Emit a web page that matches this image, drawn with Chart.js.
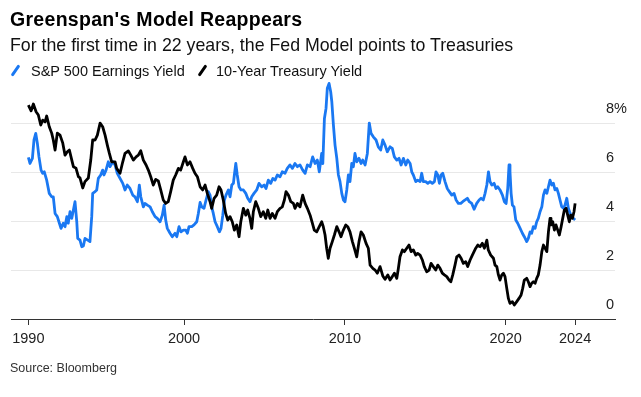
<!DOCTYPE html>
<html lang="en">
<head>
<meta charset="UTF-8">
<title>Greenspan's Model Reappears</title>
<script src="https://cdn.jsdelivr.net/npm/chart.js"></script>
<style>
  body { margin: 0; background: #fff; font-family: "Liberation Sans", Arial, sans-serif; color: #000; }
  .wrap { position: relative; width: 641px; height: 397px; overflow: hidden; }
  canvas { position: absolute; left: 0; top: 0; }
  .title { position: absolute; left: 10px; top: 10px; font-size: 19.5px; line-height: 19.5px; font-weight: bold; letter-spacing: 0.3px; }
  .subtitle { position: absolute; left: 10px; top: 37px; font-size: 17.75px; line-height: 17.75px; color: #111; }
  .legend-text { position: absolute; top: 64px; font-size: 14.5px; line-height: 14.5px; color: #111; white-space: nowrap; }
  .slash { position: absolute; top: 64px; width: 3px; height: 13px; border-radius: 1.5px; transform: rotate(35deg); }
  .source { position: absolute; left: 10px; top: 362px; font-size: 12.5px; line-height: 12.5px; color: #333; }
</style>
</head>
<body>
<div class="wrap">
  <canvas id="yieldChart" width="641" height="397"></canvas>
  <div class="title">Greenspan's Model Reappears</div>
  <div class="subtitle">For the first time in 22 years, the Fed Model points to Treasuries</div>
  <span class="slash" style="left:14px; background:#1a78f2"></span>
  <span class="legend-text" style="left:31px">S&amp;P 500 Earnings Yield</span>
  <span class="slash" style="left:201px; background:#000"></span>
  <span class="legend-text" style="left:216px">10-Year Treasury Yield</span>
  <div class="source">Source: Bloomberg</div>
</div>

<script>
// S&P 500 earnings yield (%)
const earningsYears = [
  1990.32, 1990.42, 1990.57, 1990.67, 1990.78, 1990.88, 1990.98, 1991.11, 1991.21, 1991.31,
  1991.46, 1991.62, 1991.77, 1991.87, 1991.98, 1992.12, 1992.25, 1992.35, 1992.49, 1992.60,
  1992.71, 1992.80, 1992.91, 1993.02, 1993.12, 1993.22, 1993.33, 1993.39, 1993.53, 1993.64,
  1993.74, 1993.84, 1994.01, 1994.15, 1994.26, 1994.32, 1994.47, 1994.57, 1994.67, 1994.82,
  1994.94, 1995.02, 1995.15, 1995.29, 1995.40, 1995.57, 1995.71, 1995.85, 1996.02, 1996.19,
  1996.33, 1996.47, 1996.64, 1996.81, 1996.95, 1997.10, 1997.22, 1997.31, 1997.47, 1997.57,
  1997.72, 1997.89, 1998.03, 1998.20, 1998.34, 1998.51, 1998.65, 1998.76, 1998.86, 1998.96,
  1999.13, 1999.27, 1999.44, 1999.55, 1999.69, 1999.81, 1999.96, 2000.11, 2000.21, 2000.31,
  2000.48, 2000.62, 2000.79, 2000.89, 2001.00, 2001.10, 2001.24, 2001.37, 2001.51, 2001.62,
  2001.72, 2001.82, 2001.93, 2002.07, 2002.20, 2002.30, 2002.41, 2002.51, 2002.61, 2002.76,
  2002.86, 2002.97, 2003.07, 2003.13, 2003.22, 2003.31, 2003.42, 2003.54, 2003.69, 2003.84,
  2003.96, 2004.10, 2004.21, 2004.35, 2004.52, 2004.66, 2004.83, 2004.98, 2005.10, 2005.24,
  2005.39, 2005.52, 2005.66, 2005.80, 2005.97, 2006.11, 2006.28, 2006.42, 2006.59, 2006.74,
  2006.90, 2007.05, 2007.21, 2007.38, 2007.53, 2007.67, 2007.84, 2008.00, 2008.15, 2008.29,
  2008.41, 2008.56, 2008.63, 2008.73, 2008.83, 2008.91, 2009.02, 2009.12, 2009.19, 2009.29,
  2009.39, 2009.50, 2009.60, 2009.70, 2009.81, 2009.91, 2010.01, 2010.12, 2010.22, 2010.32,
  2010.43, 2010.53, 2010.63, 2010.74, 2010.88, 2011.01, 2011.11, 2011.26, 2011.40, 2011.52,
  2011.63, 2011.77, 2011.94, 2012.08, 2012.23, 2012.36, 2012.50, 2012.64, 2012.81, 2012.95,
  2013.08, 2013.23, 2013.37, 2013.50, 2013.64, 2013.79, 2013.91, 2014.06, 2014.16, 2014.26,
  2014.41, 2014.53, 2014.68, 2014.78, 2014.88, 2015.03, 2015.16, 2015.30, 2015.44, 2015.57,
  2015.67, 2015.78, 2015.88, 2015.98, 2016.09, 2016.23, 2016.37, 2016.50, 2016.65, 2016.79,
  2016.92, 2017.06, 2017.21, 2017.33, 2017.48, 2017.62, 2017.74, 2017.89, 2018.04, 2018.20,
  2018.35, 2018.47, 2018.61, 2018.72, 2018.83, 2018.93, 2019.03, 2019.14, 2019.28, 2019.40,
  2019.51, 2019.65, 2019.80, 2019.92, 2020.03, 2020.13, 2020.21, 2020.27, 2020.34, 2020.42,
  2020.52, 2020.63, 2020.75, 2020.90, 2021.04, 2021.16, 2021.31, 2021.41, 2021.52, 2021.62,
  2021.72, 2021.83, 2021.93, 2022.03, 2022.14, 2022.25, 2022.35, 2022.45, 2022.56, 2022.66,
  2022.76, 2022.87, 2022.97, 2023.07, 2023.18, 2023.28, 2023.38, 2023.49, 2023.59, 2023.69,
  2023.80, 2023.90, 2024.01, 2024.11, 2024.21, 2024.32
];
const earningsYield = [
  6.60, 6.35, 6.56, 7.31, 7.58, 7.17, 6.62, 6.08, 5.95, 6.01,
  5.67, 5.13, 4.99, 4.99, 4.31, 4.18, 3.91, 3.70, 3.91, 3.77,
  4.18, 3.91, 4.38, 4.11, 4.45, 4.79, 3.97, 3.29, 3.22, 2.95,
  2.98, 3.29, 3.22, 3.16, 4.18, 5.13, 5.20, 5.27, 5.74, 5.88,
  6.08, 5.88, 6.08, 6.42, 6.22, 6.42, 6.29, 5.95, 5.74, 5.54,
  5.27, 5.47, 5.33, 5.06, 4.99, 4.79, 5.47, 4.99, 4.58, 4.72,
  4.65, 4.58, 4.38, 4.18, 4.11, 3.97, 4.24, 4.65, 4.04, 3.70,
  3.50, 3.36, 3.50, 3.36, 3.77, 3.56, 3.63, 3.63, 3.50, 3.77,
  3.77, 3.84, 3.97, 4.31, 4.76, 4.58, 4.52, 4.86, 5.20, 5.06,
  4.58, 4.31, 3.97, 3.77, 3.56, 3.70, 4.24, 4.86, 5.06, 5.27,
  4.99, 5.47, 5.54, 5.88, 6.35, 5.88, 5.40, 5.27, 5.27, 5.13,
  4.93, 4.79, 4.99, 5.13, 5.27, 5.54, 5.40, 5.47, 5.33, 5.67,
  5.54, 5.74, 5.67, 5.88, 5.81, 6.01, 5.95, 6.15, 6.29, 6.15,
  6.35, 6.22, 6.29, 6.08, 5.95, 6.29, 6.22, 6.62, 6.35, 6.49,
  6.01, 6.76, 6.35, 8.19, 8.60, 9.42, 9.62, 9.28, 8.87, 7.92,
  7.10, 6.56, 5.88, 5.61, 5.13, 4.86, 4.79, 5.27, 5.88, 5.61,
  6.35, 6.22, 6.76, 6.42, 6.56, 6.35, 6.49, 6.29, 6.76, 8.00,
  7.58, 7.44, 7.31, 7.03, 6.90, 7.31, 7.10, 6.83, 7.03, 6.97,
  6.62, 6.49, 6.56, 6.29, 6.56, 6.29, 6.49, 6.35, 6.01, 5.88,
  5.61, 5.67, 5.61, 5.95, 5.61, 5.61, 5.54, 5.61, 5.54, 5.61,
  6.01, 5.88, 5.54, 5.88, 5.95, 5.61, 5.33, 5.20, 5.06, 5.13,
  4.86, 4.72, 4.72, 4.79, 4.86, 4.93, 4.79, 4.72, 4.48, 4.72,
  4.86, 4.93, 4.86, 5.13, 5.47, 6.01, 5.61, 5.47, 5.54, 5.33,
  5.40, 5.27, 5.06, 4.79, 4.72, 5.33, 6.29, 6.01, 5.13, 4.65,
  4.58, 4.04, 3.91, 3.70, 3.50, 3.36, 3.16, 3.29, 3.56, 3.50,
  3.77, 3.70, 3.97, 4.11, 4.38, 4.58, 5.06, 5.27, 5.13, 5.40,
  5.67, 5.47, 5.54, 5.27, 5.33, 5.13, 4.86, 4.58, 4.52, 4.65,
  4.93, 4.52, 4.31, 4.18, 4.11, 4.04
];

// 10-year Treasury yield (%)
const treasuryYears = [
  1990.32, 1990.49, 1990.63, 1990.80, 1990.94, 1991.09, 1991.21, 1991.36, 1991.46, 1991.62,
  1991.77, 1991.87, 1991.98, 1992.12, 1992.29, 1992.46, 1992.60, 1992.74, 1992.87, 1993.02,
  1993.12, 1993.28, 1993.43, 1993.53, 1993.70, 1993.84, 1994.05, 1994.20, 1994.32, 1994.47,
  1994.61, 1994.78, 1994.94, 1995.09, 1995.23, 1995.35, 1995.50, 1995.71, 1995.81, 1996.02,
  1996.19, 1996.33, 1996.54, 1996.69, 1996.85, 1997.02, 1997.16, 1997.31, 1997.47, 1997.64,
  1997.78, 1997.93, 1998.09, 1998.24, 1998.40, 1998.55, 1998.71, 1998.86, 1999.02, 1999.17,
  1999.33, 1999.48, 1999.65, 1999.79, 1999.96, 2000.06, 2000.21, 2000.37, 2000.54, 2000.68,
  2000.83, 2001.00, 2001.16, 2001.31, 2001.45, 2001.62, 2001.72, 2001.87, 2002.03, 2002.18,
  2002.30, 2002.44, 2002.59, 2002.72, 2002.86, 2003.00, 2003.13, 2003.28, 2003.42, 2003.53,
  2003.69, 2003.84, 2003.96, 2004.10, 2004.21, 2004.31, 2004.46, 2004.62, 2004.77, 2004.93,
  2005.08, 2005.21, 2005.35, 2005.49, 2005.66, 2005.80, 2005.97, 2006.11, 2006.24, 2006.34,
  2006.49, 2006.64, 2006.80, 2006.90, 2007.05, 2007.21, 2007.38, 2007.53, 2007.67, 2007.84,
  2007.98, 2008.10, 2008.25, 2008.41, 2008.56, 2008.66, 2008.77, 2008.87, 2008.97, 2009.08,
  2009.22, 2009.35, 2009.50, 2009.64, 2009.76, 2009.91, 2010.06, 2010.18, 2010.32, 2010.47,
  2010.59, 2010.74, 2010.88, 2011.01, 2011.15, 2011.32, 2011.46, 2011.57, 2011.74, 2011.88,
  2012.02, 2012.19, 2012.36, 2012.50, 2012.67, 2012.81, 2012.95, 2013.08, 2013.23, 2013.33,
  2013.43, 2013.58, 2013.70, 2013.85, 2013.99, 2014.12, 2014.26, 2014.41, 2014.53, 2014.68,
  2014.82, 2014.94, 2015.09, 2015.24, 2015.36, 2015.50, 2015.65, 2015.78, 2015.92, 2016.06,
  2016.19, 2016.34, 2016.48, 2016.59, 2016.71, 2016.85, 2016.96, 2017.10, 2017.23, 2017.37,
  2017.52, 2017.64, 2017.79, 2017.93, 2018.14, 2018.27, 2018.41, 2018.55, 2018.68, 2018.83,
  2018.92, 2019.07, 2019.24, 2019.34, 2019.45, 2019.55, 2019.65, 2019.76, 2019.86, 2019.96,
  2020.07, 2020.17, 2020.27, 2020.42, 2020.54, 2020.69, 2020.83, 2020.96, 2021.06, 2021.16,
  2021.31, 2021.41, 2021.52, 2021.62, 2021.72, 2021.83, 2021.93, 2022.03, 2022.14, 2022.25,
  2022.35, 2022.45, 2022.56, 2022.66, 2022.76, 2022.82, 2022.93, 2023.03, 2023.13, 2023.24,
  2023.34, 2023.45, 2023.55, 2023.65, 2023.76, 2023.86, 2023.96, 2024.05, 2024.15, 2024.25,
  2024.32
];
const treasuryYield = [
  8.73, 8.50, 8.78, 8.46, 8.33, 7.92, 8.12, 8.05, 8.29, 7.85,
  7.59, 7.31, 6.90, 7.59, 7.51, 7.18, 6.69, 6.83, 6.90, 6.49,
  6.22, 6.16, 5.81, 5.76, 5.35, 5.61, 5.76, 6.49, 7.31, 7.31,
  7.51, 8.00, 7.85, 7.51, 7.10, 6.78, 6.42, 6.42, 6.15, 5.95,
  6.42, 6.76, 6.86, 6.69, 6.49, 6.62, 6.69, 6.87, 6.49, 6.29,
  6.08, 5.81, 5.47, 5.70, 5.64, 5.27, 4.86, 4.72, 4.79, 5.20,
  5.67, 5.88, 6.15, 6.08, 6.42, 6.62, 6.29, 6.42, 6.15, 5.95,
  5.81, 5.40, 5.27, 5.47, 5.13, 4.79, 4.52, 4.93, 5.06, 5.40,
  5.27, 4.86, 4.31, 4.04, 4.18, 3.97, 3.63, 3.84, 3.36, 3.97,
  4.52, 4.24, 4.45, 4.11, 3.70, 4.38, 4.79, 4.52, 4.18, 4.38,
  4.11, 4.45, 4.11, 4.31, 4.11, 4.38, 4.52, 4.58, 4.86, 5.20,
  5.06, 4.79, 4.72, 4.52, 4.72, 4.58, 5.06, 4.72, 4.52, 4.24,
  3.91, 3.63, 3.56, 3.77, 3.97, 3.77, 3.43, 2.89, 2.48, 2.89,
  3.16, 3.43, 3.77, 3.56, 3.36, 3.63, 3.84, 3.77, 3.56, 3.16,
  2.89, 2.54, 3.16, 3.56, 3.43, 3.09, 2.89, 2.20, 2.07, 2.00,
  1.87, 2.14, 1.76, 1.62, 1.80, 1.59, 1.73, 1.87, 1.66, 2.07,
  2.54, 2.82, 2.75, 2.89, 3.02, 2.75, 2.82, 2.61, 2.68, 2.61,
  2.41, 2.14, 1.93, 2.00, 2.27, 2.14, 2.00, 2.20, 2.07, 1.87,
  1.80, 1.73, 1.59, 1.52, 1.80, 2.20, 2.54, 2.61, 2.48, 2.27,
  2.34, 2.14, 2.41, 2.61, 2.89, 3.02, 2.95, 3.09, 2.89, 3.22,
  2.82, 2.61, 2.48, 2.20, 2.14, 1.80, 1.59, 1.80, 1.87, 1.73,
  1.25, 0.84, 0.64, 0.71, 0.57, 0.71, 0.84, 0.98, 1.25, 1.59,
  1.66, 1.52, 1.32, 1.46, 1.52, 1.46, 1.66, 1.80, 2.20, 2.75,
  3.02, 2.89, 2.75, 3.56, 4.11, 3.84, 3.97, 3.63, 3.84, 3.63,
  3.43, 3.77, 4.11, 4.45, 4.52, 4.24, 3.97, 4.24, 4.11, 4.38,
  4.72
];

// axis ticks: the first and last year ticks sit on the first/last data point
const xTickValues = [1990.32, 2000, 2010, 2020, 2024.32];
const xTickLabels = ['1990', '2000', '2010', '2020', '2024'];
const yTickValues = [0, 2, 4, 6, 8];

const fontFamily = '"Liberation Sans", Arial, sans-serif';
const blue = '#1a78f2';

function toPoints(xs, ys) {
    return xs.map((x, i) => ({ x: x, y: ys[i] }));
}

const ctx = document.getElementById('yieldChart').getContext('2d');
const yieldChart = new Chart(ctx, {
    type: 'line',
    data: {
        datasets: [
            {
                label: 'S&P 500 Earnings Yield',
                data: toPoints(earningsYears, earningsYield),
                borderColor: blue,
                borderWidth: 2.8,
                pointRadius: 0,
                tension: 0,
                borderJoinStyle: 'round',
                order: 2
            },
            {
                label: '10-Year Treasury Yield',
                data: toPoints(treasuryYears, treasuryYield),
                borderColor: '#000',
                borderWidth: 2.8,
                pointRadius: 0,
                tension: 0,
                borderJoinStyle: 'round',
                order: 1
            }
        ]
    },
    options: {
        responsive: false,
        animation: false,
        events: [],
        layout: {
            padding: { left: 11, right: 2, top: 79, bottom: 44.6 }
        },
        plugins: {
            legend: { display: false },
            tooltip: { enabled: false }
        },
        scales: {
            x: {
                type: 'linear',
                min: 1989.24,
                max: 2026.8,
                afterBuildTicks: (scale) => {
                    scale.ticks = xTickValues.map(v => ({ value: v }));
                },
                ticks: {
                    autoSkip: false,
                    maxRotation: 0,
                    padding: 5,
                    color: '#222',
                    font: { family: fontFamily, size: 14.5 },
                    callback: (value, index) => xTickLabels[index]
                },
                grid: {
                    drawOnChartArea: false,
                    drawTicks: true,
                    tickLength: 6,
                    tickColor: '#333'
                },
                border: { display: true, color: '#333', width: 1 }
            },
            y: {
                position: 'right',
                min: 0,
                max: 9.8,
                afterBuildTicks: (scale) => {
                    scale.ticks = yTickValues.map(v => ({ value: v }));
                },
                ticks: {
                    mirror: true,
                    crossAlign: 'far',
                    padding: 12,
                    labelOffset: -14,
                    color: '#222',
                    font: { family: fontFamily, size: 14.5 },
                    callback: (value) => value === 8 ? '8%' : String(value)
                },
                grid: {
                    color: '#e8e8e8',
                    drawTicks: false
                },
                border: { display: false }
            }
        }
    }
});
</script>
</body>
</html>
